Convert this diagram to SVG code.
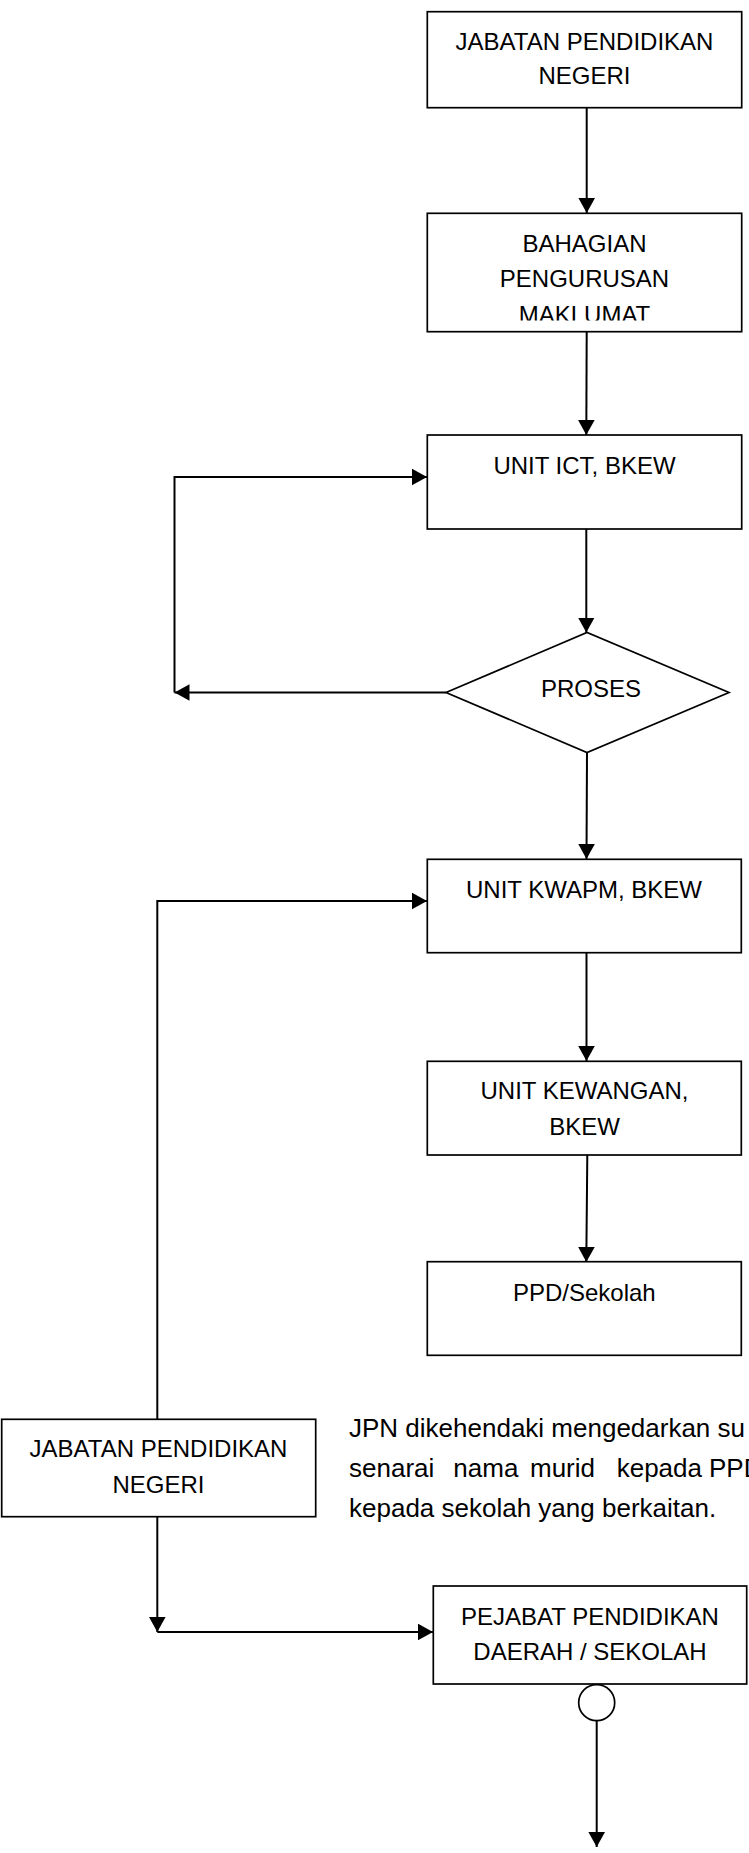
<svg xmlns="http://www.w3.org/2000/svg" width="749" height="1853" viewBox="0 0 749 1853">
  <style>
    .box { fill: #ffffff; stroke: #000000; stroke-width: 1.7; }
    .conn { fill: none; stroke: #000000; stroke-width: 2; }
    .arr { marker-end: url(#ah); }
    .lbl { font-family: "Liberation Sans", Arial, sans-serif; font-size: 24px; fill: #000000; text-anchor: middle; }
    .para { font-family: "Liberation Sans", Arial, sans-serif; font-size: 26px; fill: #000000; }
  </style>
  <defs>
    <marker id="ah" markerUnits="userSpaceOnUse" markerWidth="16" markerHeight="17" refX="15" refY="8.3" orient="auto">
      <path d="M0,0 L15,8.3 L0,16.6 z" fill="#000000"/>
    </marker>
    <clipPath id="clipB2">
      <rect x="427" y="213" width="315" height="107.5"/>
    </clipPath>
  </defs>
  <rect width="749" height="1853" fill="#ffffff"/>

  <g id="connectors">
    <line class="conn arr" x1="586.7" y1="108" x2="586.7" y2="213"/>
    <line class="conn arr" x1="586.7" y1="332" x2="586.3" y2="435"/>
    <line class="conn arr" x1="586.3" y1="529" x2="586.3" y2="632.5"/>
    <line class="conn arr" x1="446" y1="692.5" x2="174.5" y2="692.5"/>
    <polyline class="conn arr" points="174.5,692.5 174.5,477 427,477"/>
    <line class="conn arr" x1="587" y1="752.5" x2="586.5" y2="859"/>
    <line class="conn arr" x1="586.5" y1="953" x2="586.5" y2="1061"/>
    <line class="conn arr" x1="587.3" y1="1155" x2="586.3" y2="1262"/>
    <polyline class="conn arr" points="157.3,1419 157.3,901 427,901"/>
    <line class="conn arr" x1="157.3" y1="1517" x2="157.3" y2="1632"/>
    <line class="conn arr" x1="157.3" y1="1632" x2="433" y2="1632"/>
    <line class="conn arr" x1="596.7" y1="1721" x2="596.7" y2="1847"/>
  </g>

  <g id="node-jpn-top">
    <rect class="box" x="427.3" y="11.7" width="314.4" height="96"/>
    <text class="lbl" x="584.5" y="50">JABATAN PENDIDIKAN</text>
    <text class="lbl" x="584.5" y="84">NEGERI</text>
  </g>

  <g id="node-bpm">
    <rect class="box" x="427.3" y="213.3" width="314.4" height="118.4"/>
    <g clip-path="url(#clipB2)">
      <text class="lbl" x="584.5" y="252">BAHAGIAN</text>
      <text class="lbl" x="584.5" y="287">PENGURUSAN</text>
      <text class="lbl" x="584.5" y="323">MAKLUMAT</text>
    </g>
  </g>

  <g id="node-ict">
    <rect class="box" x="427.3" y="435" width="314.4" height="94"/>
    <text class="lbl" x="584.5" y="474">UNIT ICT, BKEW</text>
  </g>

  <g id="node-proses">
    <polygon class="box" points="446,692.5 587,632.5 729,692.5 587,752.5"/>
    <text class="lbl" x="591" y="697">PROSES</text>
  </g>

  <g id="node-kwapm">
    <rect class="box" x="427.3" y="859.3" width="314" height="93.4"/>
    <text class="lbl" x="584" y="898">UNIT KWAPM, BKEW</text>
  </g>

  <g id="node-kewangan">
    <rect class="box" x="427.3" y="1061.3" width="314" height="93.7"/>
    <text class="lbl" x="584.5" y="1099">UNIT KEWANGAN,</text>
    <text class="lbl" x="584.5" y="1135">BKEW</text>
  </g>

  <g id="node-ppd">
    <rect class="box" x="427.3" y="1261.7" width="314" height="93.6"/>
    <text class="lbl" x="584.3" y="1301">PPD/Sekolah</text>
  </g>

  <g id="node-jpn-bottom">
    <rect class="box" x="1.7" y="1419.3" width="314" height="97.4"/>
    <text class="lbl" x="158.5" y="1457">JABATAN PENDIDIKAN</text>
    <text class="lbl" x="158.5" y="1493">NEGERI</text>
  </g>

  <g id="note">
    <text class="para" x="349" y="1437">JPN dikehendaki mengedarkan su</text>
    <text class="para" y="1477"><tspan x="349">senarai</tspan><tspan x="453.3">nama</tspan><tspan x="530">murid</tspan><tspan x="616.7">kepada</tspan><tspan x="709">PPD</tspan></text>
    <text class="para" x="349" y="1517">kepada sekolah yang berkaitan.</text>
  </g>

  <g id="node-pejabat">
    <rect class="box" x="433.3" y="1586" width="313.4" height="98"/>
    <text class="lbl" x="590" y="1625">PEJABAT PENDIDIKAN</text>
    <text class="lbl" x="590" y="1660">DAERAH / SEKOLAH</text>
  </g>

  <g id="node-connector-circle">
    <circle class="box" cx="596.7" cy="1702.7" r="18"/>
  </g>
</svg>
